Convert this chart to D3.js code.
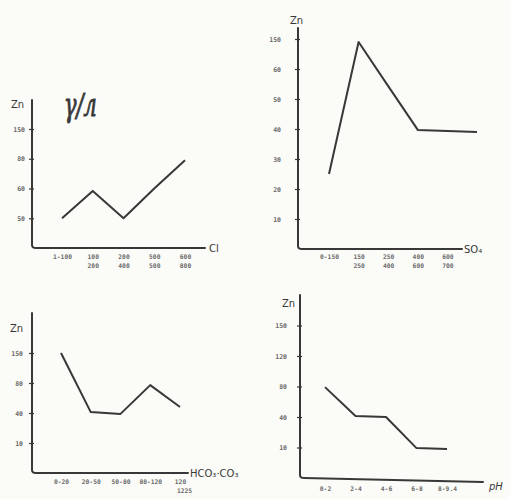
<!DOCTYPE html>
<html>
<head>
<meta charset="utf-8">
<script src="https://cdn.jsdelivr.net/npm/d3@7/dist/d3.min.js"></script>
<style>
  html, body { margin: 0; padding: 0; background: #fbfbf8; }
  svg { display: block; }
  .tick text { font-family: "DejaVu Sans Mono", monospace; font-weight: bold; fill: #6a6a6a; }
</style>
</head>
<body>
<svg id="chart" width="510" height="499"></svg>
<script>
// Zn content against chloride, sulphate, hydrocarbonate and pH classes.
// Values are given in y-tick steps (the ticks are unevenly labelled).

const clCats   = ["1-100", "100\n200", "200\n400", "500\n500", "600\n800"];
const clZn     = [1.0, 1.92, 1.0, 2.0, 2.95];
const clTicks  = ["50", "60", "80", "150"];

const so4Cats  = ["0-150", "150\n250", "250\n400", "400\n600", "600\n700", ""];
const so4Zn    = [2.5, 6.9, 5.43, 3.97, 3.93, 3.9];
const so4Ticks = ["10", "20", "30", "40", "50", "60", "150"];

const hcoCats  = ["0-20", "20-50", "50-80", "80-120", "120\n1225"];
const hcoZn    = [4.0, 2.03, 1.97, 2.93, 2.2];
const hcoTicks = ["10", "40", "80", "150"];

const phCats   = ["0-2", "2-4", "4-6", "6-8", "8-9.4"];
const phZn     = [2.98, 2.03, 2.0, 0.98, 0.95];
const phTicks  = ["10", "40", "80", "120", "150"];

const svg = d3.select("#chart");
const ink = "#383838";

function panel(o) {
  const g = svg.append("g");
  const y = d3.scaleLinear()
    .domain([0, o.ticks.length])
    .range([o.base, o.base - o.step * o.ticks.length]);
  const x = d3.scalePoint().domain(o.cats).range(o.xr);

  // hand-drawn axes
  g.append("path")
    .attr("d", `M${o.ax},${o.top} L${o.ax},${o.base - 3} Q${o.ax},${o.base} ${o.ax + 4},${o.base} L${o.xend},${o.base + (o.tilt || 0)}`)
    .attr("fill", "none").attr("stroke", ink).attr("stroke-width", 2)
    .attr("stroke-linecap", "round");

  // y ticks
  const ya = g.append("g").attr("transform", `translate(${o.ax},0)`)
    .call(d3.axisLeft(y)
      .tickValues(d3.range(1, o.ticks.length + 1))
      .tickFormat(i => o.ticks[i - 1])
      .tickSize(3).tickPadding(o.pad));
  ya.select(".domain").remove();
  ya.selectAll(".tick line").attr("x1", -3).attr("x2", 2)
    .attr("stroke", ink).attr("stroke-width", 1.2);
  ya.selectAll(".tick text").attr("font-size", 6.5);

  // x category labels
  const xa = g.append("g").attr("transform", `translate(0,${o.base})`)
    .call(d3.axisBottom(x).tickSize(0).tickFormat(""));
  xa.select(".domain").remove();
  xa.selectAll(".tick").each(function (d) {
    const t = d3.select(this).append("text")
      .attr("font-size", 6.3).attr("text-anchor", "middle")
      .attr("fill", "#6a6a6a");
    d.split("\n").forEach((s, i) => {
      t.append("tspan").attr("x", i === 1 && o.shift2 ? o.shift2 : 0)
        .attr("y", o.lab + i * 9).text(s);
    });
  });

  // data line
  g.append("path")
    .datum(o.vals)
    .attr("d", d3.line().x((d, i) => x(o.cats[i])).y(d => y(d)))
    .attr("fill", "none").attr("stroke", ink).attr("stroke-width", 2)
    .attr("stroke-linejoin", "round");

  // axis names
  g.append("text").attr("x", o.zn[0]).attr("y", o.zn[1])
    .attr("font-family", "DejaVu Sans").attr("font-size", 10).attr("fill", ink)
    .text("Zn");
  g.append("text").attr("x", o.name[0]).attr("y", o.name[1])
    .attr("font-family", "DejaVu Sans").attr("font-size", 10).attr("fill", ink)
    .attr("font-style", o.italic ? "italic" : "normal")
    .text(o.title);
}

panel({ cats: clCats, vals: clZn, ticks: clTicks, ax: 32, top: 100, base: 248, step: 29.75,
        xend: 205, xr: [62, 185], pad: 4, lab: 11, zn: [11, 108], name: [209, 252], title: "Cl" });

panel({ cats: so4Cats, vals: so4Zn, ticks: so4Ticks, ax: 298, top: 28, base: 249, step: 30,
        xend: 462, xr: [329, 477], pad: 14, lab: 10, zn: [290, 24], name: [464, 253], title: "SO₄" });

panel({ cats: hcoCats, vals: hcoZn, ticks: hcoTicks, ax: 32, top: 313, base: 473, step: 30,
        xend: 188, xr: [61, 180], pad: 6, lab: 11, shift2: 4, zn: [10, 332], name: [190, 477], title: "HCO₃·CO₃" });

panel({ cats: phCats, vals: phZn, ticks: phTicks, ax: 300, top: 295, base: 478, step: 30.5,
        xend: 483, xr: [325, 447], pad: 10, lab: 13, tilt: 4, zn: [282, 307], name: [489, 490], title: "pH", italic: true });

// unit note, handwritten style
svg.append("text")
  .attr("transform", "translate(64,116) scale(0.8,1.25)")
  .attr("font-family", "DejaVu Serif").attr("font-style", "italic")
  .attr("font-size", 26).attr("fill", ink)
  .attr("stroke", ink).attr("stroke-width", 0.8)
  .text("γ/л");
</script>
</body>
</html>
